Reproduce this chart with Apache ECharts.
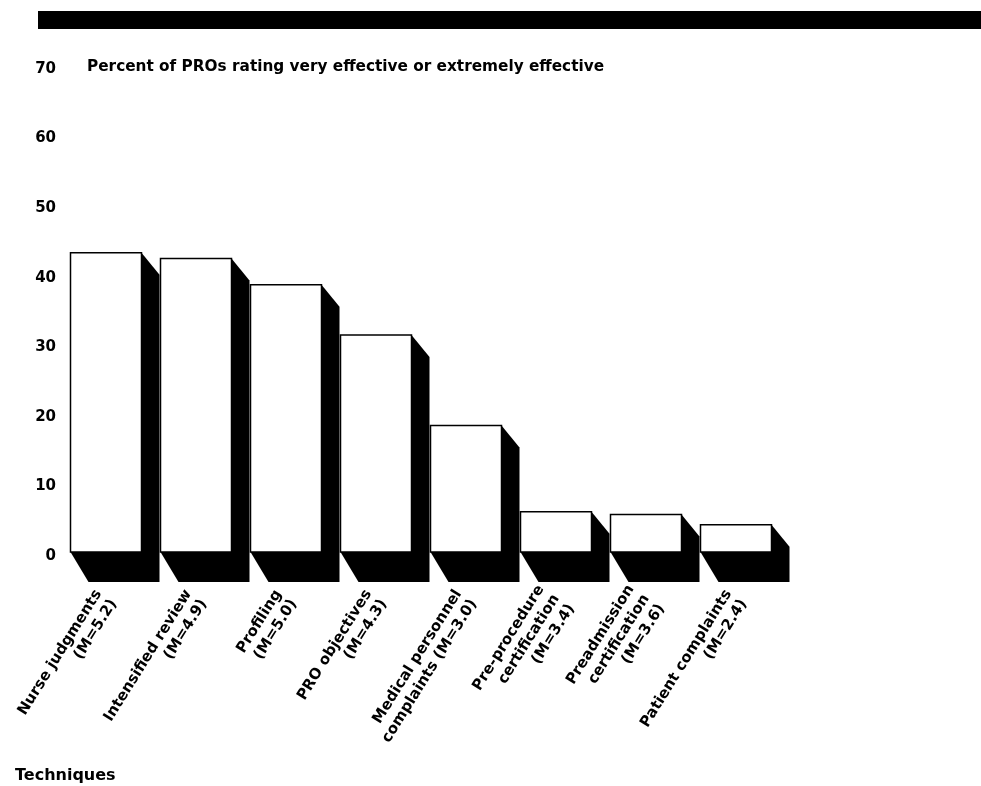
<!DOCTYPE html>
<html>
<head>
<meta charset="utf-8">
<script src="https://cdn.jsdelivr.net/npm/echarts@6/dist/echarts.min.js"></script>
<style>
  html, body { margin: 0; padding: 0; background: #fff; }
  #chart { width: 981px; height: 786px; }
</style>
</head>
<body>
<div id="chart"></div>
<script>
// Techniques with their mean ratings, as printed under each bar
const techniques = [
  'Nurse judgments\n(M=5.2)',
  'Intensified review\n(M=4.9)',
  'Profiling\n(M=5.0)',
  'PRO objectives\n(M=4.3)',
  'Medical personnel\ncomplaints (M=3.0)',
  'Pre-procedure\ncertification\n(M=3.4)',
  'Preadmission\ncertification\n(M=3.6)',
  'Patient complaints\n(M=2.4)'
];
// Percent of PROs rating each technique very or extremely effective
const percentEffective = [43, 42.2, 38.4, 31.2, 18.2, 5.8, 5.4, 3.9];
// Value axis ticks
const yTicks = [0, 10, 20, 30, 40, 50, 60, 70];

const FONT = '"DejaVu Sans", Arial, Helvetica, sans-serif';
const chart = echarts.init(document.getElementById('chart'), null, { renderer: 'canvas' });

// Each bar: a white front face with a solid black extrusion to the lower right
function renderBlockBar(params, api) {
  const base = api.coord([api.value(0), 0]);
  const top = api.coord([api.value(0), api.value(1)]);
  const w = 71, dx = 18, dyTop = 22, dyBot = 30;
  const L = base[0] - 35.5, R = L + w;
  const bot = base[1], ty = top[1];
  return {
    type: 'group',
    children: [
      {
        type: 'polygon',
        shape: { points: [[L, ty], [R, ty], [R + dx, ty + dyTop], [R + dx, bot + dyBot], [L + dx, bot + dyBot], [L, bot]] },
        style: { fill: '#000' }
      },
      {
        type: 'rect',
        shape: { x: L, y: ty, width: w, height: bot - ty },
        style: { fill: '#fff', stroke: '#000', lineWidth: 1.5 }
      }
    ]
  };
}

chart.setOption({
  backgroundColor: '#fff',
  animation: false,
  grid: { left: 61, width: 720, top: 65, bottom: 234 },
  xAxis: {
    type: 'category',
    data: techniques,
    axisLine: { show: false },
    axisTick: { show: false },
    splitLine: { show: false },
    axisLabel: {
      interval: 0,
      rotate: 58,
      margin: 44,
      color: '#000',
      fontFamily: FONT,
      fontWeight: 'bold',
      fontSize: 15,
      lineHeight: 18,
      align: 'right'
    }
  },
  yAxis: {
    type: 'value',
    min: 0,
    max: 70,
    interval: 10,
    axisLine: { show: false },
    axisTick: { show: false },
    splitLine: { show: false },
    axisLabel: {
      margin: 5,
      color: '#000',
      fontFamily: FONT,
      fontWeight: 'bold',
      fontSize: 15,
      verticalAlign: 'top',
      lineHeight: 8,
      formatter: v => (yTicks.indexOf(v) >= 0 ? String(v) : '')
    }
  },
  graphic: [
    { type: 'rect', left: 38, top: 11, shape: { width: 943, height: 18 }, style: { fill: '#000' } },
    {
      type: 'text', left: 87, top: 60,
      style: { text: 'Percent of PROs rating very effective or extremely effective', fill: '#000', font: 'bold 15.3px ' + FONT }
    },
    {
      type: 'text', left: 15, top: 768,
      style: { text: 'Techniques', fill: '#000', font: 'bold 16px ' + FONT }
    }
  ],
  series: [{
    type: 'custom',
    renderItem: renderBlockBar,
    encode: { x: 0, y: 1 },
    data: percentEffective.map((v, i) => [i, v])
  }]
});
</script>
</body>
</html>
